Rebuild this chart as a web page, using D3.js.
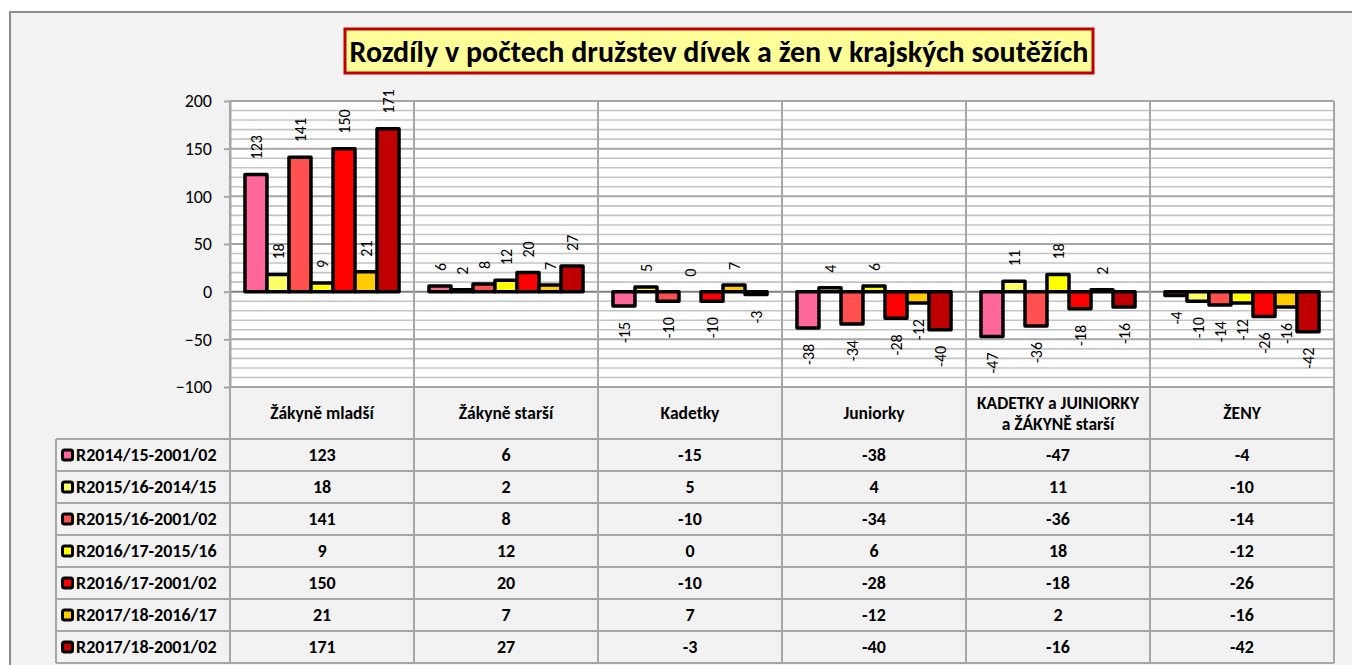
<!DOCTYPE html>
<html>
<head>
<meta charset="utf-8">
<script src="https://cdn.jsdelivr.net/npm/d3@7"></script>
<style>
  body { margin: 0; background: #fff; }
  svg { display: block; font-family: Carlito, Lato, "Open Sans", sans-serif; }
</style>
</head>
<body>
<script>
// chart data
const categories = ["Žákyně mladší", "Žákyně starší", "Kadetky", "Juniorky", "KADETKY a JUINIORKY|a ŽÁKYNĚ starší", "ŽENY"];
const seriesNames = ["R2014/15-2001/02", "R2015/16-2014/15", "R2015/16-2001/02", "R2016/17-2015/16", "R2016/17-2001/02", "R2017/18-2016/17", "R2017/18-2001/02"];
const seriesColors = ["#ff6699", "#ffff66", "#ff5050", "#ffff00", "#ff0000", "#ffcc00", "#c00000"];
const s1 = [123, 6, -15, -38, -47, -4];
const s2 = [18, 2, 5, 4, 11, -10];
const s3 = [141, 8, -10, -34, -36, -14];
const s4 = [9, 12, 0, 6, 18, -12];
const s5 = [150, 20, -10, -28, -18, -26];
const s6 = [21, 7, 7, -12, 2, -16];
const s7 = [171, 27, -3, -40, -16, -42];
const seriesValues = [s1, s2, s3, s4, s5, s6, s7];
const yTicks = [-100, -50, 0, 50, 100, 150, 200];
const title = "Rozdíly v počtech družstev dívek a žen v krajských soutěžích";

const W = 1352, H = 665;
const plotLeft = 230, plotRight = 1334, plotTop = 101, plotBottom = 387;
const tableLeft = 56, headerBottom = 439, rowH = 32;
const gridColor = "#a6a6a6";

var svg = d3.select("body")
    .append("svg")
    .attr("width", W)
    .attr("height", H);

// chart area background + frame
svg.append("rect")
    .attr("x", 10)
    .attr("y", 12)
    .attr("width", W + 20)
    .attr("height", H + 20)
    .attr("fill", "#f2f2f2")
    .attr("stroke", "#8c8c8c")
    .attr("stroke-width", 2);

// title box
let titleG = svg.append("g");
titleG.append("rect")
    .attr("x", 345)
    .attr("y", 29)
    .attr("width", 748)
    .attr("height", 44)
    .attr("fill", "#ffff99")
    .attr("stroke", "#c00000")
    .attr("stroke-width", 3);
titleG.append("text")
    .attr("x", 719)
    .attr("y", 62)
    .attr("text-anchor", "middle")
    .attr("font-weight", "bold")
    .attr("font-size", 30)
    .text(title);

// scales
var x = d3.scaleBand()
    .domain(categories)
    .range([plotLeft, plotRight]);

var xs = d3.scaleBand()
    .domain(d3.range(seriesNames.length))
    .range([0, x.bandwidth()])
    .paddingInner(0)
    .paddingOuter(0.68);

var y = d3.scaleLinear()
    .domain([-100, 200])
    .range([plotBottom, plotTop]);

// plot background
svg.append("rect")
    .attr("x", plotLeft)
    .attr("y", plotTop)
    .attr("width", plotRight - plotLeft)
    .attr("height", plotBottom - plotTop)
    .attr("fill", "#fff");

// minor gridlines every 10, major every 50
let minor = d3.range(-100, 201, 10).filter(v => v % 50 !== 0);
svg.append("g")
    .selectAll("line")
    .data(minor)
    .join("line")
    .attr("x1", plotLeft)
    .attr("x2", plotRight)
    .attr("y1", d => y(d))
    .attr("y2", d => y(d))
    .attr("stroke", "#c4c4c4")
    .attr("stroke-width", 1.6);

svg.append("g")
    .selectAll("line")
    .data(yTicks)
    .join("line")
    .attr("x1", plotLeft)
    .attr("x2", plotRight)
    .attr("y1", d => y(d))
    .attr("y2", d => y(d))
    .attr("stroke", d => d === 0 ? "#808080" : gridColor)
    .attr("stroke-width", 2);

// y axis
let yAxis = svg.append("g")
    .attr("transform", `translate(${plotLeft},0)`)
    .call(d3.axisLeft(y).tickValues(yTicks).tickSize(6).tickSizeOuter(0).tickPadding(12));
yAxis.select(".domain").attr("stroke", gridColor).attr("stroke-width", 2);
yAxis.selectAll(".tick line").attr("stroke", gridColor).attr("stroke-width", 2);
yAxis.selectAll(".tick text")
    .attr("font-size", 18)
    .attr("font-family", "Carlito, Lato, sans-serif")
    .attr("fill", "#000");

// table rows and separators
let rowCount = seriesNames.length;
let tableBottom = headerBottom + rowCount * rowH;
let lines = svg.append("g").attr("stroke", gridColor).attr("stroke-width", 2);

lines.append("line")
    .attr("x1", plotLeft).attr("x2", plotRight)
    .attr("y1", plotBottom).attr("y2", plotBottom);

lines.selectAll(".hrow")
    .data(d3.range(rowCount + 1))
    .join("line")
    .attr("class", "hrow")
    .attr("x1", tableLeft).attr("x2", plotRight)
    .attr("y1", d => headerBottom + d * rowH)
    .attr("y2", d => headerBottom + d * rowH);

lines.append("line")
    .attr("x1", tableLeft).attr("x2", tableLeft)
    .attr("y1", headerBottom).attr("y2", tableBottom);

lines.selectAll(".vcat")
    .data(categories.concat(["end"]))
    .join("line")
    .attr("class", "vcat")
    .attr("x1", (d, i) => i < categories.length ? x(d) : plotRight)
    .attr("x2", (d, i) => i < categories.length ? x(d) : plotRight)
    .attr("y1", plotTop)
    .attr("y2", tableBottom);

// bars
let groups = svg.append("g")
    .selectAll("g")
    .data(categories)
    .join("g")
    .attr("transform", d => `translate(${x(d)},0)`);

groups.selectAll("rect")
    .data((d, ci) => seriesValues.map((vals, si) => ({ si, v: vals[ci] })))
    .join("rect")
    .attr("x", d => xs(d.si))
    .attr("width", xs.bandwidth())
    .attr("y", d => y(Math.max(0, d.v)))
    .attr("height", d => Math.abs(y(d.v) - y(0)))
    .attr("fill", d => seriesColors[d.si])
    .attr("stroke", "#000")
    .attr("stroke-width", 3.5)
    .attr("stroke-linejoin", "round");

// rotated value labels
groups.selectAll("text")
    .data((d, ci) => seriesValues.map((vals, si) => ({ si, v: vals[ci] })))
    .join("text")
    .attr("transform", d => {
        let cx = xs(d.si) + xs.bandwidth() / 2;
        let cy = d.v >= 0 ? y(d.v) - 15 : y(d.v) + 16;
        return `translate(${cx},${cy}) rotate(-90)`;
    })
    .attr("dy", "0.35em")
    .attr("text-anchor", d => d.v >= 0 ? "start" : "end")
    .attr("font-size", 16)
    .text(d => d.v);

// header row with category names
let header = svg.append("g")
    .attr("font-weight", "bold")
    .attr("font-size", 17.5)
    .attr("text-anchor", "middle");

categories.forEach(c => {
    let parts = c.split("|");
    let cx = x(c) + x.bandwidth() / 2;
    let midY = (plotBottom + headerBottom) / 2;
    let t = header.append("text").attr("x", cx);
    parts.forEach((p, k) => {
        t.append("tspan")
            .attr("x", cx)
            .attr("y", midY + 6 + (k - (parts.length - 1) / 2) * 21)
            .text(p);
    });
});

// data rows: legend key + values
let rows = svg.append("g")
    .selectAll("g")
    .data(seriesNames)
    .join("g")
    .attr("transform", (d, i) => `translate(0,${headerBottom + i * rowH + rowH / 2})`);

rows.append("rect")
    .attr("x", 62.5)
    .attr("y", -5)
    .attr("width", 10)
    .attr("height", 10)
    .attr("rx", 2)
    .attr("fill", (d, i) => seriesColors[i])
    .attr("stroke", "#000")
    .attr("stroke-width", 3);

rows.append("text")
    .attr("x", 76)
    .attr("dy", "0.36em")
    .attr("font-weight", "bold")
    .attr("font-size", 18)
    .text(d => d);

rows.each(function(name, si) {
    d3.select(this).selectAll(".val")
        .data(seriesValues[si])
        .join("text")
        .attr("class", "val")
        .attr("x", (v, ci) => x(categories[ci]) + x.bandwidth() / 2)
        .attr("dy", "0.36em")
        .attr("text-anchor", "middle")
        .attr("font-weight", "bold")
        .attr("font-size", 18)
        .text(v => v);
});
</script>
</body>
</html>
